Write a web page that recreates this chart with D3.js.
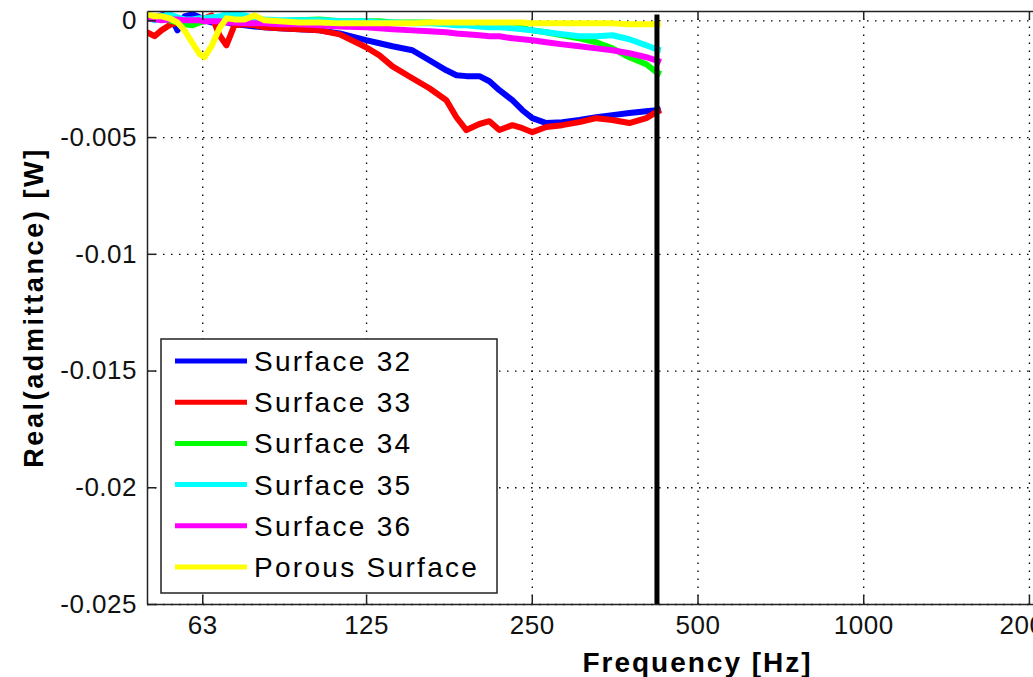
<!DOCTYPE html>
<html>
<head>
<meta charset="utf-8">
<script src="https://cdn.jsdelivr.net/npm/d3@7/dist/d3.min.js"></script>
<style>
  body { margin: 0; background: #fff; overflow: hidden; }
  svg { display: block; font-family: "Liberation Sans", Arial, sans-serif; }
  .axis .tick text { font-family: "Liberation Sans", Arial, sans-serif; font-size: 26px; fill: #111; letter-spacing: 0.5px; }
  .axis path, .axis line { stroke: #222; stroke-width: 1.5; }
  .grid line { stroke: #000; stroke-width: 1.3; stroke-dasharray: 1.5 6.5; }
  .grid path { display: none; }
  .title { font-weight: bold; fill: #000; }
  .legend text { font-size: 28px; letter-spacing: 2.3px; fill: #000; }
</style>
</head>
<body>
<div id="vis"></div>
<script>
// frequencies [Hz] shared by all the measured curves
var freqs = [50, 51.6, 53.1, 54.9, 56.8, 58.5, 60.5, 62.3, 63.6, 65.5,
  67.7, 69.7, 72.1, 75.2, 78.4, 81.7, 87, 94.6, 102.9, 111.9,
  125, 132.2, 139.6, 151.7, 162.9, 174.9, 182.4, 190.2, 200.8, 209.4,
  218.3, 230.5, 240.4, 250.6, 265.7, 284.1, 305, 327.5, 350.2, 376,
  403.6, 420.9, 428.9];

// real part of the admittance for each surface
var surface32 = [0.00009, 0.00013, 0.00021, 0.00030, -0.00043, 0.00017, 0.00026, 0.00013, 0, -0.00009,
  0, -0.00009, -0.00017, -0.00021, -0.00026, -0.00030, -0.00034, -0.00038, -0.00043, -0.00056,
  -0.00085, -0.00098, -0.00111, -0.00128, -0.00171, -0.00214, -0.00235, -0.00239, -0.00239, -0.00261,
  -0.00299, -0.00342, -0.00385, -0.00419, -0.00440, -0.00436, -0.00427, -0.00415, -0.00406, -0.00397,
  -0.00389, -0.00385, -0.00380];
var surface33 = [-0.00051, -0.00068, -0.00043, -0.00021, -0.00009, 0, -0.00004, 0, 0.00009, 0.00021,
  -0.00064, -0.00107, -0.00021, -0.00017, -0.00021, -0.00030, -0.00034, -0.00038, -0.00043, -0.00060,
  -0.00115, -0.00150, -0.00197, -0.00248, -0.00291, -0.00342, -0.00415, -0.00470, -0.00444, -0.00432,
  -0.00470, -0.00449, -0.00462, -0.00479, -0.00457, -0.00449, -0.00436, -0.00419, -0.00427, -0.00440,
  -0.00419, -0.00393, -0.00385];
var surface34 = [0.00009, 0.00013, 0.00009, 0, -0.00009, -0.00017, -0.00021, -0.00009, -0.00004, 0,
  0.00004, 0, -0.00004, -0.00004, 0, -0.00004, -0.00004, 0, 0.00004, -0.00004,
  -0.00004, -0.00004, -0.00009, -0.00009, -0.00009, -0.00013, -0.00013, -0.00017, -0.00017, -0.00021,
  -0.00026, -0.00030, -0.00034, -0.00043, -0.00051, -0.00064, -0.00077, -0.00094, -0.00120, -0.00158,
  -0.00188, -0.00222, -0.00231];
var surface35 = [0.00013, 0, 0.00017, 0.00026, 0.00013, 0.00004, 0.00004, 0.00009, 0.00009, 0.00013,
  0.00017, 0.00026, 0.00026, 0.00021, 0.00009, 0.00004, 0, 0, 0, -0.00004,
  -0.00004, -0.00009, -0.00009, -0.00013, -0.00013, -0.00017, -0.00021, -0.00021, -0.00026, -0.00030,
  -0.00030, -0.00034, -0.00038, -0.00043, -0.00051, -0.00060, -0.00068, -0.00068, -0.00064, -0.00081,
  -0.00107, -0.00124, -0.00128];
var surface36 = [0.00009, 0.00004, 0, 0.00004, 0.00004, 0, 0, 0, -0.00004, -0.00004,
  -0.00004, -0.00009, -0.00009, -0.00013, -0.00013, -0.00013, -0.00017, -0.00017, -0.00021, -0.00026,
  -0.00030, -0.00034, -0.00038, -0.00043, -0.00047, -0.00051, -0.00056, -0.00060, -0.00064, -0.00068,
  -0.00068, -0.00077, -0.00081, -0.00085, -0.00094, -0.00103, -0.00111, -0.00120, -0.00128, -0.00141,
  -0.00158, -0.00171, -0.00179];
var porous = [0.00026, 0.00017, 0.00017, 0.00009, -0.00009, -0.00043, -0.00098, -0.00145, -0.00158, -0.00111,
  -0.00034, 0.00009, 0.00004, 0.00004, 0.00021, 0, -0.00004, -0.00009, -0.00009, -0.00013,
  -0.00013, -0.00013, -0.00013, -0.00013, -0.00009, -0.00009, -0.00009, -0.00009, -0.00009, -0.00009,
  -0.00009, -0.00009, -0.00009, -0.00013, -0.00013, -0.00013, -0.00013, -0.00013, -0.00013, -0.00017,
  -0.00017, -0.00017, -0.00017];

var seriesNames = ['Surface 32', 'Surface 33', 'Surface 34', 'Surface 35', 'Surface 36', 'Porous Surface'];
var seriesValues = [surface32, surface33, surface34, surface35, surface36, porous];
var seriesColors = ['#0000ff', '#ff0000', '#00ff00', '#00ffff', '#ff00ff', '#ffff00'];

// axis ticks
var xTicks = [63, 125, 250, 500, 1000, 2000];
var xTickLabels = ['63', '125', '250', '500', '1000', '2000'];
var yTicks = [-0.025, -0.02, -0.015, -0.01, -0.005, 0];
var yTickLabels = ['-0.025', '-0.02', '-0.015', '-0.01', '-0.005', '0'];

// limits of the axes and the marked frequency
var xLimits = [50, 5000];
var yLimits = [-0.025, 0.0004];
var cutoffFreq = 422;

// page size and plot box (the box runs off the right edge, as in the figure)
var width = 1033;
var height = 677;
var plot = { left: 147, top: 11, right: 1248, bottom: 604 };

var svg = d3.select('#vis').append('svg')
  .attr('width', width)
  .attr('height', height);

var x = d3.scaleLog().domain(xLimits).range([plot.left, plot.right]);
var y = d3.scaleLinear().domain(yLimits).range([plot.bottom, plot.top]);

svg.append('defs').append('clipPath')
  .attr('id', 'plot-clip')
  .append('rect')
  .attr('x', plot.left)
  .attr('y', plot.top)
  .attr('width', plot.right - plot.left)
  .attr('height', plot.bottom - plot.top);

// dotted grid
svg.append('g')
  .attr('class', 'grid')
  .attr('transform', 'translate(0,' + plot.bottom + ')')
  .call(d3.axisBottom(x).tickValues(xTicks).tickFormat('').tickSize(-(plot.bottom - plot.top)));

svg.append('g')
  .attr('class', 'grid')
  .attr('transform', 'translate(' + plot.left + ',0)')
  .call(d3.axisLeft(y).tickValues(yTicks).tickFormat('').tickSize(-(plot.right - plot.left)));

// curves
var line = d3.line()
  .x(function (d) { return x(d[0]); })
  .y(function (d) { return y(d[1]); });

var curves = svg.append('g').attr('clip-path', 'url(#plot-clip)');

seriesValues.forEach(function (vals, i) {
  curves.append('path')
    .datum(freqs.map(function (f, j) { return [f, vals[j]]; }))
    .attr('fill', 'none')
    .attr('stroke', seriesColors[i])
    .attr('stroke-width', 6)
    .attr('stroke-linejoin', 'round')
    .attr('d', line);
});

// thick black marker line
curves.append('line')
  .attr('x1', x(cutoffFreq))
  .attr('x2', x(cutoffFreq))
  .attr('y1', y(0.00025))
  .attr('y2', y(yLimits[0]))
  .attr('stroke', '#000')
  .attr('stroke-width', 5);

// axes with inward ticks
svg.append('g')
  .attr('class', 'axis')
  .attr('transform', 'translate(0,' + plot.bottom + ')')
  .call(d3.axisBottom(x).tickValues(xTicks)
    .tickFormat(function (d, i) { return xTickLabels[i]; })
    .tickSize(-9).tickSizeOuter(0).tickPadding(12));

svg.append('g')
  .attr('class', 'axis')
  .attr('transform', 'translate(0,' + plot.top + ')')
  .call(d3.axisTop(x).tickValues(xTicks).tickFormat('').tickSize(-9).tickSizeOuter(0));

svg.append('g')
  .attr('class', 'axis')
  .attr('transform', 'translate(' + plot.left + ',0)')
  .call(d3.axisLeft(y).tickValues(yTicks)
    .tickFormat(function (d, i) { return yTickLabels[i]; })
    .tickSize(-9).tickSizeOuter(0).tickPadding(10));

// axis titles
svg.append('text')
  .attr('class', 'title')
  .attr('x', (plot.left + plot.right) / 2)
  .attr('y', 672)
  .attr('text-anchor', 'middle')
  .style('font-size', '28px')
  .style('letter-spacing', '2px')
  .text('Frequency [Hz]');

svg.append('text')
  .attr('class', 'title')
  .attr('transform', 'translate(43,' + (plot.top + plot.bottom) / 2 + ') rotate(-90)')
  .attr('text-anchor', 'middle')
  .style('font-size', '27px')
  .style('letter-spacing', '2.6px')
  .text('Real(admittance) [W]');

// legend
var legend = svg.append('g').attr('class', 'legend');

legend.append('rect')
  .attr('x', 161)
  .attr('y', 339)
  .attr('width', 336)
  .attr('height', 254)
  .attr('fill', '#fff')
  .attr('stroke', '#222')
  .attr('stroke-width', 1.5);

seriesNames.forEach(function (name, i) {
  var ry = 361 + i * 41.2;
  legend.append('line')
    .attr('x1', 175).attr('x2', 247)
    .attr('y1', ry).attr('y2', ry)
    .attr('stroke', seriesColors[i])
    .attr('stroke-width', 5);
  legend.append('text')
    .attr('x', 254)
    .attr('y', ry + 10)
    .text(name);
});
</script>
</body>
</html>
